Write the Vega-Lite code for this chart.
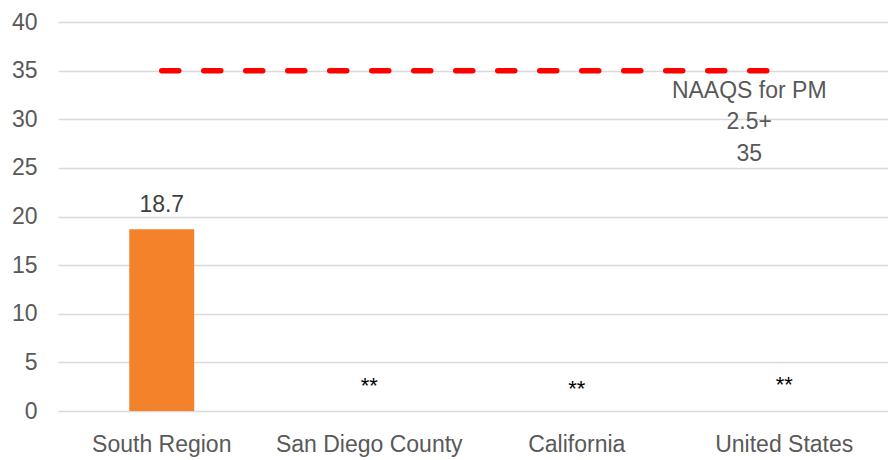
{
  "$schema": "https://vega.github.io/schema/vega-lite/v6.json",
  "autosize": "none",
  "width": 830,
  "height": 389,
  "padding": {"left": 58, "top": 22, "right": 0, "bottom": 49},
  "background": "white",
  "config": {
    "view": {"stroke": null},
    "font": "Liberation Sans"
  },
  "datasets": {
    "bars": [
      {"region": "South Region", "value": 18.7},
      {"region": "San Diego County", "value": null},
      {"region": "California", "value": null},
      {"region": "United States", "value": null}
    ],
    "std": [
      {"region": "South Region", "value": 35},
      {"region": "San Diego County", "value": 35},
      {"region": "California", "value": 35},
      {"region": "United States", "value": 35}
    ],
    "stars": [
      {"region": "San Diego County", "pos": 2.6, "label": "**"},
      {"region": "California", "pos": 2.3, "label": "**"},
      {"region": "United States", "pos": 2.7, "label": "**"}
    ],
    "note": [
      {"region": "United States", "value": 35, "label": ["NAAQS for PM", "2.5+", "35"]}
    ]
  },
  "encoding": {
    "x": {
      "field": "region",
      "type": "nominal",
      "sort": ["South Region", "San Diego County", "California", "United States"],
      "scale": {"paddingInner": 0.687, "paddingOuter": 0.3435},
      "axis": {
        "title": null,
        "labelAngle": 0,
        "domain": false,
        "ticks": false,
        "labelFontSize": 23,
        "labelColor": "#595959",
        "labelPadding": 22,
        "labelLimit": 400
      }
    }
  },
  "layer": [
    {
      "data": {"name": "bars"},
      "mark": {"type": "bar", "color": "#F4822A"},
      "encoding": {
        "y": {
          "field": "value",
          "type": "quantitative",
          "scale": {"domain": [0, 40], "nice": false},
          "axis": {
            "title": null,
            "values": [0, 5, 10, 15, 20, 25, 30, 35, 40],
            "domain": false,
            "ticks": false,
            "labelFontSize": 23,
            "labelColor": "#595959",
            "labelPadding": 21,
            "gridColor": "#d9d9d9",
            "gridWidth": 1.5
          }
        }
      }
    },
    {
      "data": {"name": "bars"},
      "mark": {"type": "text", "baseline": "alphabetic", "dy": -17, "fontSize": 23, "color": "#404040"},
      "encoding": {
        "y": {"field": "value", "type": "quantitative"},
        "text": {"field": "value", "type": "quantitative", "format": ".1f"}
      }
    },
    {
      "data": {"name": "std"},
      "mark": {"type": "line", "color": "#FF0000", "strokeWidth": 5.5, "strokeDash": [17, 25], "strokeCap": "round"},
      "encoding": {
        "y": {"field": "value", "type": "quantitative"}
      }
    },
    {
      "data": {"name": "stars"},
      "mark": {"type": "text", "baseline": "middle", "fontSize": 22, "color": "#000000"},
      "encoding": {
        "y": {"field": "pos", "type": "quantitative"},
        "text": {"field": "label"}
      }
    },
    {
      "data": {"name": "note"},
      "mark": {"type": "text", "baseline": "top", "align": "center", "dx": -35, "dy": 9, "fontSize": 23, "lineHeight": 31.5, "color": "#595959"},
      "encoding": {
        "y": {"field": "value", "type": "quantitative"},
        "text": {"field": "label"}
      }
    }
  ]
}
